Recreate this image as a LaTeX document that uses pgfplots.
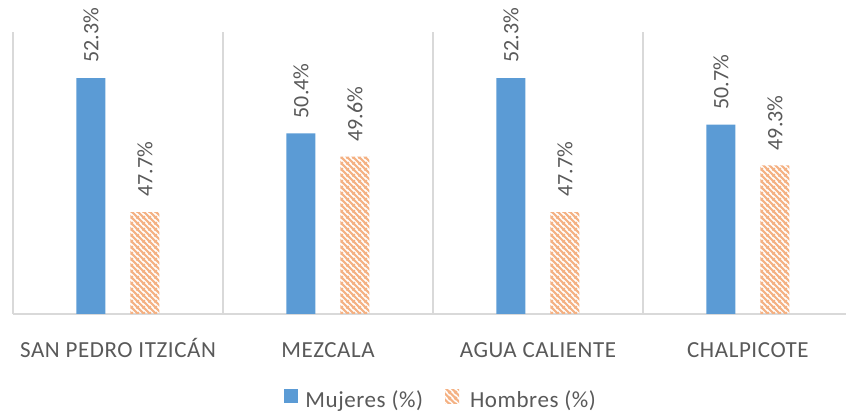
\documentclass[border=0pt]{standalone}
\usepackage{fontspec}
\setmainfont{Carlito}[LetterSpace=2.5]
\newfontfamily\lblfont{Carlito}
\usepackage{pgfplots}
\pgfplotsset{compat=1.18}
\usetikzlibrary{patterns.meta}
\definecolor{cblue}{HTML}{5B9BD5}
\definecolor{corange}{HTML}{F4B183}
\definecolor{ctext}{HTML}{595959}
\definecolor{cgrid}{HTML}{D9D9D9}
\tikzdeclarepattern{
  name=wdiag,
  type=uncolored,
  bounding box={(0,0) and (6pt,6pt)},
  tile size={(6pt,6pt)},
  code={
    \draw[line width=2.5pt] (-1pt,7pt) -- (7pt,-1pt);
    \draw[line width=2.5pt] (-1pt,1pt) -- (1pt,-1pt);
    \draw[line width=2.5pt] (5pt,7pt) -- (7pt,5pt);
  }
}
\begin{document}
\begin{tikzpicture}
\useasboundingbox (0,0) rectangle (846pt,415pt);
\begin{axis}[
  at={(13pt,101pt)}, anchor=south west,
  scale only axis, width=833pt, height=282pt,
  xmin=-0.5, xmax=3.467, ymin=44.2, ymax=53.88,
  clip mode=individual,
  ybar=25pt, bar width=29pt,
  axis lines*=left,
  axis line style={cgrid, line width=1.3pt},
  ytick=\empty,
  xtick={0,1,2,3},
  xticklabels={SAN PEDRO ITZICÁN, MEZCALA, AGUA CALIENTE, CHALPICOTE},
  major tick length=0pt,
  minor xtick={-0.5,0.5,1.5,2.5},
  xminorgrids=true,
  minor grid style={cgrid, line width=1.3pt},
  minor tick length=0pt,
  xticklabel style={font=\fontsize{23}{27}\selectfont, text=ctext, anchor=base, yshift=-43pt},
  /pgf/number format/assume math mode=true,
  nodes near coords={\pgfmathprintnumber[fixed,precision=1,fixed zerofill]{\pgfplotspointmeta}\%},
  nodes near coords style={font=\lblfont\fontsize{22}{26}\selectfont, text=ctext, rotate=90, anchor=west, inner xsep=15pt, inner ysep=0pt},
  legend columns=2,
  legend style={at={(0.514,-0.305)}, anchor=center, draw=none, fill=none,
    font=\fontsize{23}{27}\selectfont, text=ctext,
    /tikz/every odd column/.append style={column sep=0pt},
    /tikz/every even column/.append style={column sep=20pt}},
]
\addplot[fill=cblue, draw=none,
  legend image code/.code={\fill[cblue] (0pt,-3pt) rectangle (14pt,11pt); \path (19pt,0pt);}]
  coordinates {(0,52.3) (1,50.4) (2,52.3) (3,50.7)};
\addlegendentry{Mujeres (\%)}
\addplot[draw=none, pattern=wdiag, pattern color=corange,
  legend image code/.code={\fill[pattern=wdiag, pattern color=corange] (0pt,-3pt) rectangle (14pt,11pt); \path (19pt,0pt);}]
  coordinates {(0,47.7) (1,49.6) (2,47.7) (3,49.3)};
\addlegendentry{\hspace{4pt}Hombres (\%)}
\end{axis}
\end{tikzpicture}
\end{document}
